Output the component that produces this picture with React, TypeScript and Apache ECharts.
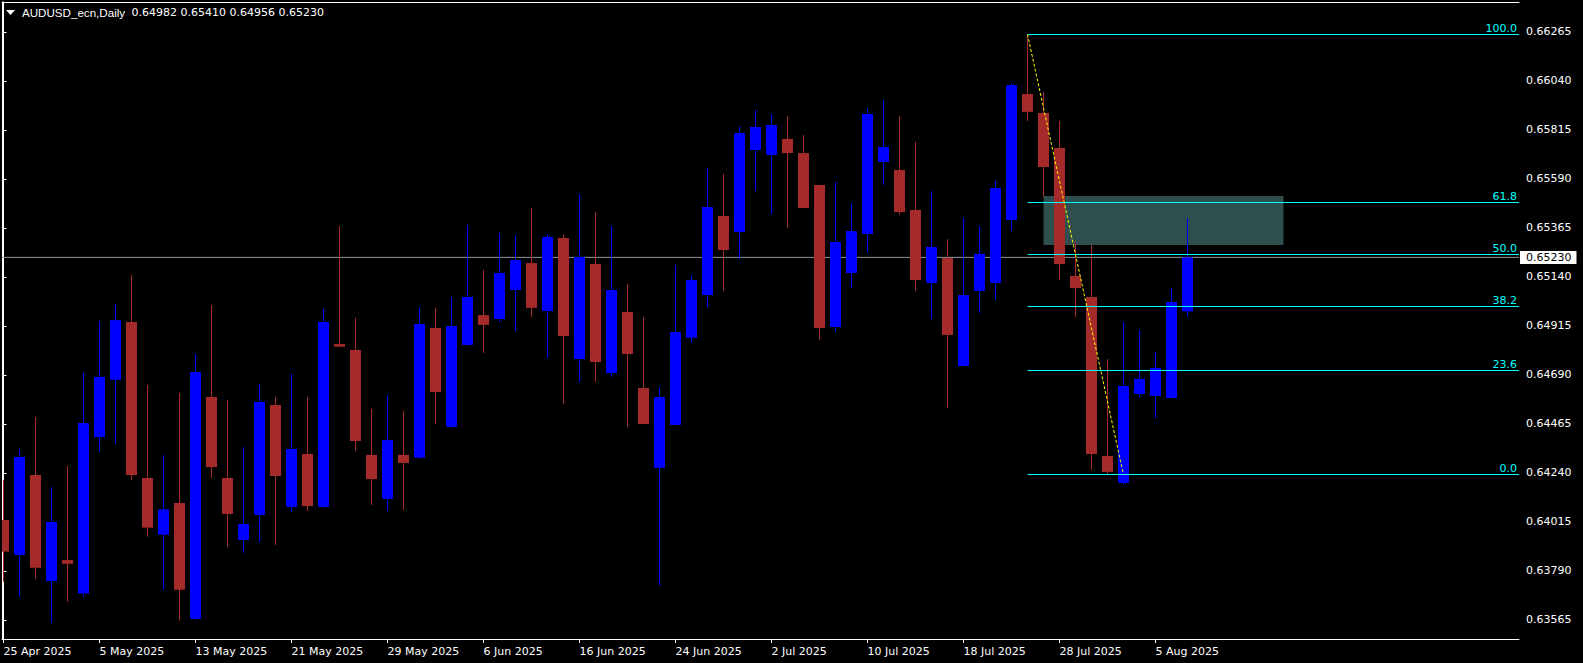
import { useEffect, useRef } from 'react';
import * as echarts from 'echarts';

const symbolTitle = 'AUDUSD_ecn,Daily';

const xTickBars = [0, 6, 12, 18, 24, 30, 36, 42, 48, 54, 60, 66, 72];
const xTickLabels = ['25 Apr 2025', '5 May 2025', '13 May 2025', '21 May 2025', '29 May 2025', '6 Jun 2025', '16 Jun 2025', '24 Jun 2025', '2 Jul 2025', '10 Jul 2025', '18 Jul 2025', '28 Jul 2025', '5 Aug 2025'];

const yTicks = [0.63565, 0.6379, 0.64015, 0.6424, 0.64465, 0.6469, 0.64915, 0.6514, 0.65365, 0.6559, 0.65815, 0.6604, 0.66265];

const opens = [0.64024, 0.63863, 0.64231, 0.63744, 0.6384, 0.63686, 0.64405, 0.64668, 0.64933, 0.64217,
  0.63957, 0.64102, 0.6357, 0.64589, 0.64217, 0.63932, 0.64047, 0.64552, 0.64084, 0.64327,
  0.64084, 0.64832, 0.64805, 0.64323, 0.64121, 0.64323, 0.6431, 0.64906, 0.64451, 0.64828,
  0.64965, 0.64947, 0.6508, 0.65204, 0.64984, 0.65319, 0.64763, 0.652, 0.64699, 0.64979,
  0.6463, 0.64264, 0.6446, 0.64861, 0.65057, 0.6542, 0.65347, 0.65723, 0.657, 0.65774,
  0.65709, 0.65562, 0.6491, 0.65158, 0.65337, 0.65668, 0.65631, 0.65448, 0.65112, 0.65227,
  0.64731, 0.65076, 0.65112, 0.65402, 0.6598, 0.65893, 0.65732, 0.65145, 0.65048, 0.64318,
  0.64194, 0.64603, 0.64594, 0.64584, 0.64982];

const highs = [0.64208, 0.6435, 0.64497, 0.64176, 0.64272, 0.64699, 0.64938, 0.65016, 0.65149, 0.64644,
  0.64323, 0.64607, 0.64786, 0.65011, 0.64575, 0.64359, 0.64649, 0.64589, 0.64695, 0.64589,
  0.64993, 0.65374, 0.64952, 0.64534, 0.64598, 0.64525, 0.65002, 0.64998, 0.65048, 0.65379,
  0.65172, 0.65342, 0.65333, 0.65457, 0.65337, 0.65333, 0.65521, 0.65438, 0.65374, 0.65108,
  0.64956, 0.64636, 0.65195, 0.65149, 0.6564, 0.65613, 0.65833, 0.65907, 0.65888, 0.65879,
  0.65792, 0.65562, 0.65576, 0.6548, 0.65916, 0.65953, 0.65879, 0.6576, 0.65535, 0.65314,
  0.65411, 0.65374, 0.65581, 0.66031, 0.66254, 0.65989, 0.65856, 0.65301, 0.65287, 0.64763,
  0.64933, 0.64897, 0.64796, 0.65089, 0.6541];

const lows = [0.63741, 0.63672, 0.63755, 0.63552, 0.63649, 0.63672, 0.64338, 0.64374, 0.64209, 0.63947,
  0.63704, 0.63562, 0.63566, 0.64217, 0.639, 0.63873, 0.63923, 0.63909, 0.64061, 0.64065,
  0.64079, 0.64819, 0.64341, 0.64093, 0.64065, 0.6407, 0.64306, 0.64465, 0.64447, 0.64825,
  0.64791, 0.64933, 0.64892, 0.64956, 0.64768, 0.64557, 0.64658, 0.64658, 0.64681, 0.64451,
  0.64463, 0.63722, 0.6446, 0.64837, 0.65002, 0.65076, 0.65223, 0.65535, 0.65429, 0.65365,
  0.65457, 0.64851, 0.64887, 0.65089, 0.6525, 0.65562, 0.65425, 0.65076, 0.64947, 0.64538,
  0.64731, 0.64975, 0.65034, 0.65351, 0.65856, 0.65507, 0.65126, 0.64956, 0.64254, 0.64231,
  0.64185, 0.64589, 0.64492, 0.64584, 0.64956];

const closes = [0.63879, 0.64313, 0.63805, 0.64015, 0.63823, 0.6447, 0.64681, 0.64942, 0.64231, 0.63989,
  0.64073, 0.63704, 0.64704, 0.64267, 0.64052, 0.64006, 0.64566, 0.64226, 0.6435, 0.64088,
  0.64933, 0.6482, 0.64387, 0.64212, 0.64391, 0.64286, 0.64924, 0.64612, 0.64915, 0.65048,
  0.6492, 0.65158, 0.65218, 0.64998, 0.65324, 0.64869, 0.65232, 0.6475, 0.6508, 0.64786,
  0.64465, 0.64589, 0.64887, 0.65126, 0.65461, 0.65264, 0.65801, 0.65829, 0.65838, 0.65709,
  0.65457, 0.64906, 0.65301, 0.65351, 0.65888, 0.65737, 0.65438, 0.65126, 0.65278, 0.64874,
  0.65057, 0.65246, 0.65549, 0.66022, 0.65898, 0.65645, 0.652, 0.65089, 0.64327, 0.64245,
  0.64639, 0.64672, 0.64722, 0.65025, 0.6523];

// Fibonacci retracement anchors (bar index, price)
const fibStartBar = 64;
const fibEndBar = 70;
const fibHigh = 0.66254;
const fibLow = 0.64231;
const fibLevels = [0, 23.6, 38.2, 50, 61.8, 100];

// Rectangle zone: [startBar, topPrice, endBar, bottomPrice]
const zone = [65, 0.65512, 80, 0.65287];

const Y_MIN = 0.634776;
const Y_MAX = 0.664027;
const X_MIN = -0.09375;
const X_MAX = 94.71875;

const BLUE = '#0000ff';
const RED = '#a52a2a';
const CYAN = '#00ffff';
const NUM_FONT = 'DejaVu Sans';

export default function App() {
  const ref = useRef<HTMLDivElement>(null);

  useEffect(() => {
    if (!ref.current) return;
    const chart = echarts.init(ref.current, null, { renderer: 'svg' });
    const last = closes.length - 1;
    const candleData = opens.map((o, i) => [i, o, closes[i], lows[i], highs[i]]);
    const fibData = fibLevels.map((lv) => [lv, fibLow + ((fibHigh - fibLow) * lv) / 100]);
    const headerValues = [opens[last], highs[last], lows[last], closes[last]].map((v) => v.toFixed(5)).join(' ');

    const option: any = {
      animation: false,
      backgroundColor: '#000',
      grid: { left: 2, top: 2, width: 1517, height: 637, show: false },
      xAxis: [
        {
          type: 'value',
          min: X_MIN,
          max: X_MAX,
          position: 'bottom',
          axisLine: { show: true, lineStyle: { color: '#fff', width: 1 } },
          splitLine: { show: false },
          axisTick: { show: true, customValues: xTickBars, length: 4, lineStyle: { color: '#fff' } },
          axisLabel: {
            customValues: xTickBars,
            formatter: (v: number) => {
              const k = xTickBars.indexOf(Math.round(v));
              return k >= 0 ? xTickLabels[k] : '';
            },
            color: '#fff',
            fontFamily: NUM_FONT,
            fontSize: 11,
            align: 'left',
            margin: 7,
          },
        },
        {
          type: 'value',
          min: X_MIN,
          max: X_MAX,
          position: 'top',
          axisLine: { show: true, lineStyle: { color: '#fff', width: 1 } },
          splitLine: { show: false },
          axisTick: { show: false },
          axisLabel: { show: false },
        },
      ],
      yAxis: [
        {
          type: 'value',
          position: 'right',
          min: Y_MIN,
          max: Y_MAX,
          axisLine: { show: true, lineStyle: { color: '#fff', width: 1 } },
          splitLine: { show: false },
          axisTick: { show: true, customValues: yTicks, length: 3, lineStyle: { color: '#fff' } },
          axisLabel: {
            customValues: yTicks,
            formatter: (v: number) => v.toFixed(5),
            color: '#fff',
            fontFamily: NUM_FONT,
            fontSize: 11,
            margin: 7,
          },
        },
        {
          type: 'value',
          position: 'right',
          min: Y_MIN,
          max: Y_MAX,
          axisLine: { show: false },
          splitLine: { show: false },
          axisTick: { show: false },
          axisLabel: {
            customValues: [closes[last]],
            formatter: (v: number) => v.toFixed(5),
            color: '#000',
            backgroundColor: '#fff',
            padding: [1, 5, 1, 6],
            lineHeight: 11,
            fontFamily: NUM_FONT,
            fontSize: 11,
            margin: 1,
          },
        },
        {
          type: 'value',
          position: 'left',
          min: Y_MIN,
          max: Y_MAX,
          axisLine: { show: true, lineStyle: { color: '#fff', width: 1 } },
          splitLine: { show: false },
          axisTick: { show: false },
          axisLabel: { show: false },
        },
      ],
      graphic: [
        { type: 'polygon', shape: { points: [[6, 10], [15, 10], [10.5, 15]] }, style: { fill: '#fff' } },
        {
          type: 'text',
          x: 22,
          y: 12.5,
          style: { text: symbolTitle, fill: '#fff', font: '11.6px "Liberation Sans"', verticalAlign: 'middle' },
        },
        {
          type: 'text',
          x: 131.5,
          y: 12.5,
          style: { text: headerValues, fill: '#fff', font: '11px "DejaVu Sans"', verticalAlign: 'middle' },
        },
      ],
      series: [
        {
          name: 'zone',
          type: 'custom',
          z: 1,
          clip: true,
          data: [zone],
          renderItem: (params: any, api: any) => {
            const p1 = api.coord([api.value(0), api.value(1)]);
            const p2 = api.coord([api.value(2), api.value(3)]);
            return {
              type: 'rect',
              shape: { x: p1[0], y: p1[1], width: p2[0] - p1[0], height: p2[1] - p1[1] },
              style: { fill: '#2f4f4f' },
            };
          },
        },
        {
          name: 'bid',
          type: 'line',
          z: 1,
          symbol: 'none',
          silent: true,
          data: [[X_MIN, closes[last]], [X_MAX, closes[last]]],
          lineStyle: { color: '#8c96a0', width: 1, type: 'solid' },
        },
        {
          name: 'candles',
          type: 'custom',
          z: 2,
          clip: true,
          data: candleData,
          encode: { x: 0, y: [1, 2, 3, 4] },
          renderItem: (params: any, api: any) => {
            const i = api.value(0);
            const o = api.value(1);
            const c = api.value(2);
            const l = api.value(3);
            const h = api.value(4);
            const po = api.coord([i, o]);
            const pc = api.coord([i, c]);
            const pl = api.coord([i, l]);
            const ph = api.coord([i, h]);
            const band = api.size([1, 0])[0];
            const bw = Math.round(band * 0.6875);
            const x = po[0];
            const color = c >= o ? BLUE : RED;
            const top = Math.min(po[1], pc[1]);
            const bh = Math.max(Math.abs(po[1] - pc[1]), 1);
            return {
              type: 'group',
              children: [
                { type: 'line', shape: { x1: x, y1: ph[1], x2: x, y2: pl[1] }, style: { stroke: color, lineWidth: 1 } },
                { type: 'rect', shape: { x: x - bw / 2, y: top, width: bw, height: bh }, style: { fill: color } },
              ],
            };
          },
        },
        {
          name: 'fibo',
          type: 'custom',
          z: 3,
          clip: false,
          data: fibData,
          renderItem: (params: any, api: any) => {
            const lv = api.value(0);
            const price = api.value(1);
            const p = api.coord([fibStartBar, price]);
            const cs = params.coordSys;
            const xr = cs.x + cs.width;
            const y = Math.round(p[1] - 0.5) + 0.5;
            return {
              type: 'group',
              children: [
                { type: 'line', shape: { x1: p[0], y1: y, x2: xr, y2: y }, style: { stroke: CYAN, lineWidth: 1 } },
                {
                  type: 'text',
                  style: {
                    text: lv.toFixed(1),
                    x: xr - 2,
                    y: y - 1,
                    fill: CYAN,
                    font: '11px "DejaVu Sans"',
                    align: 'right',
                    textAlign: 'right',
                    verticalAlign: 'bottom',
                    textVerticalAlign: 'bottom',
                  },
                },
              ],
            };
          },
        },
        {
          name: 'fiboTrend',
          type: 'line',
          z: 4,
          symbol: 'none',
          silent: true,
          data: [[fibStartBar, fibHigh], [fibEndBar, fibLow]],
          lineStyle: { color: '#ffff00', width: 1, type: [3, 2] },
        },
      ],
    };

    chart.setOption(option);
    return () => chart.dispose();
  }, []);

  return (
    <div
      ref={ref}
      style={{ position: 'fixed', left: 0, top: 0, width: 1583, height: 663, background: '#000' }}
    />
  );
}
